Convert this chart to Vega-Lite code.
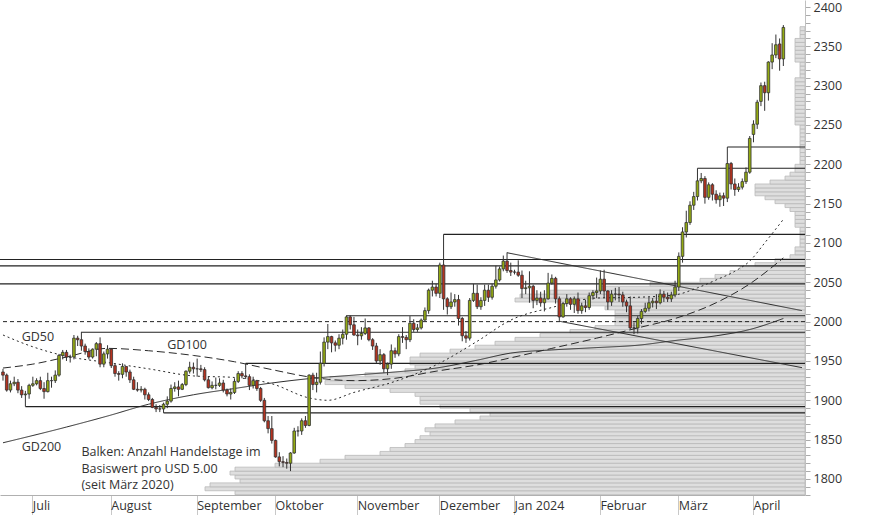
{
  "$schema": "https://vega.github.io/schema/vega-lite/v6.json",
  "width": 805,
  "height": 495,
  "autosize": {"type": "none"},
  "padding": {"left": 0, "top": 0, "right": 69, "bottom": 20},
  "background": "white",
  "config": {"view": {"stroke": null}, "font": "Open Sans", "axisY": {"grid": false, "title": null}},
  "datasets": {
    "kurse": [
      {"d":"2023-06-21","o":1936,"h":1940,"l":1925,"c":1932},
      {"d":"2023-06-22","o":1932,"h":1934,"l":1911,"c":1913},
      {"d":"2023-06-23","o":1913,"h":1925,"l":1910,"c":1921},
      {"d":"2023-06-26","o":1921,"h":1930,"l":1918,"c":1923},
      {"d":"2023-06-27","o":1923,"h":1927,"l":1909,"c":1913},
      {"d":"2023-06-28","o":1913,"h":1918,"l":1903,"c":1907},
      {"d":"2023-06-29","o":1907,"h":1912,"l":1892,"c":1908},
      {"d":"2023-06-30","o":1908,"h":1921,"l":1902,"c":1919},
      {"d":"2023-07-03","o":1919,"h":1930,"l":1917,"c":1921},
      {"d":"2023-07-04","o":1921,"h":1928,"l":1919,"c":1925},
      {"d":"2023-07-05","o":1925,"h":1930,"l":1913,"c":1915},
      {"d":"2023-07-06","o":1915,"h":1923,"l":1902,"c":1911},
      {"d":"2023-07-07","o":1911,"h":1935,"l":1910,"c":1925},
      {"d":"2023-07-10","o":1925,"h":1930,"l":1916,"c":1925},
      {"d":"2023-07-11","o":1925,"h":1938,"l":1922,"c":1932},
      {"d":"2023-07-12","o":1932,"h":1959,"l":1930,"c":1957},
      {"d":"2023-07-13","o":1957,"h":1964,"l":1952,"c":1961},
      {"d":"2023-07-14","o":1961,"h":1964,"l":1950,"c":1955},
      {"d":"2023-07-17","o":1955,"h":1958,"l":1948,"c":1955},
      {"d":"2023-07-18","o":1955,"h":1983,"l":1952,"c":1979},
      {"d":"2023-07-19","o":1979,"h":1982,"l":1969,"c":1977},
      {"d":"2023-07-20","o":1977,"h":1987,"l":1963,"c":1969},
      {"d":"2023-07-21","o":1969,"h":1972,"l":1958,"c":1962},
      {"d":"2023-07-24","o":1962,"h":1966,"l":1952,"c":1955},
      {"d":"2023-07-25","o":1955,"h":1966,"l":1953,"c":1965},
      {"d":"2023-07-26","o":1965,"h":1974,"l":1956,"c":1972},
      {"d":"2023-07-27","o":1972,"h":1980,"l":1942,"c":1946},
      {"d":"2023-07-28","o":1946,"h":1962,"l":1942,"c":1959},
      {"d":"2023-07-31","o":1959,"h":1970,"l":1953,"c":1965},
      {"d":"2023-08-01","o":1965,"h":1966,"l":1941,"c":1944},
      {"d":"2023-08-02","o":1944,"h":1947,"l":1930,"c":1934},
      {"d":"2023-08-03","o":1934,"h":1937,"l":1925,"c":1933},
      {"d":"2023-08-04","o":1933,"h":1947,"l":1928,"c":1943},
      {"d":"2023-08-07","o":1943,"h":1943,"l":1930,"c":1936},
      {"d":"2023-08-08","o":1936,"h":1939,"l":1922,"c":1926},
      {"d":"2023-08-09","o":1926,"h":1930,"l":1913,"c":1914},
      {"d":"2023-08-10","o":1914,"h":1923,"l":1911,"c":1913},
      {"d":"2023-08-11","o":1913,"h":1918,"l":1910,"c":1914},
      {"d":"2023-08-14","o":1914,"h":1916,"l":1901,"c":1907},
      {"d":"2023-08-15","o":1907,"h":1910,"l":1899,"c":1901},
      {"d":"2023-08-16","o":1901,"h":1903,"l":1890,"c":1891},
      {"d":"2023-08-17","o":1891,"h":1895,"l":1885,"c":1889},
      {"d":"2023-08-18","o":1889,"h":1894,"l":1885,"c":1889},
      {"d":"2023-08-21","o":1889,"h":1897,"l":1884,"c":1895},
      {"d":"2023-08-22","o":1895,"h":1905,"l":1890,"c":1899},
      {"d":"2023-08-23","o":1899,"h":1920,"l":1897,"c":1915},
      {"d":"2023-08-24","o":1915,"h":1923,"l":1911,"c":1917},
      {"d":"2023-08-25","o":1917,"h":1925,"l":1905,"c":1914},
      {"d":"2023-08-28","o":1914,"h":1922,"l":1913,"c":1920},
      {"d":"2023-08-29","o":1920,"h":1938,"l":1918,"c":1937},
      {"d":"2023-08-30","o":1937,"h":1949,"l":1934,"c":1942},
      {"d":"2023-08-31","o":1942,"h":1948,"l":1934,"c":1940},
      {"d":"2023-09-01","o":1940,"h":1953,"l":1930,"c":1940},
      {"d":"2023-09-04","o":1940,"h":1945,"l":1936,"c":1939},
      {"d":"2023-09-05","o":1939,"h":1942,"l":1924,"c":1926},
      {"d":"2023-09-06","o":1926,"h":1930,"l":1915,"c":1916},
      {"d":"2023-09-07","o":1916,"h":1924,"l":1914,"c":1919},
      {"d":"2023-09-08","o":1919,"h":1929,"l":1914,"c":1919},
      {"d":"2023-09-11","o":1919,"h":1928,"l":1917,"c":1922},
      {"d":"2023-09-12","o":1922,"h":1926,"l":1910,"c":1913},
      {"d":"2023-09-13","o":1913,"h":1915,"l":1905,"c":1908},
      {"d":"2023-09-14","o":1908,"h":1915,"l":1901,"c":1910},
      {"d":"2023-09-15","o":1910,"h":1928,"l":1908,"c":1924},
      {"d":"2023-09-18","o":1924,"h":1937,"l":1922,"c":1934},
      {"d":"2023-09-19","o":1934,"h":1937,"l":1928,"c":1931},
      {"d":"2023-09-20","o":1931,"h":1947,"l":1927,"c":1930},
      {"d":"2023-09-21","o":1930,"h":1933,"l":1913,"c":1919},
      {"d":"2023-09-22","o":1919,"h":1930,"l":1915,"c":1925},
      {"d":"2023-09-25","o":1925,"h":1926,"l":1912,"c":1915},
      {"d":"2023-09-26","o":1915,"h":1917,"l":1898,"c":1900},
      {"d":"2023-09-27","o":1900,"h":1903,"l":1872,"c":1874},
      {"d":"2023-09-28","o":1874,"h":1880,"l":1858,"c":1864},
      {"d":"2023-09-29","o":1864,"h":1880,"l":1845,"c":1849},
      {"d":"2023-10-02","o":1849,"h":1850,"l":1827,"c":1828},
      {"d":"2023-10-03","o":1828,"h":1834,"l":1816,"c":1822},
      {"d":"2023-10-04","o":1822,"h":1829,"l":1815,"c":1821},
      {"d":"2023-10-05","o":1821,"h":1826,"l":1813,"c":1820},
      {"d":"2023-10-06","o":1820,"h":1834,"l":1810,"c":1833},
      {"d":"2023-10-09","o":1833,"h":1865,"l":1832,"c":1861},
      {"d":"2023-10-10","o":1861,"h":1867,"l":1854,"c":1861},
      {"d":"2023-10-11","o":1861,"h":1877,"l":1856,"c":1874},
      {"d":"2023-10-12","o":1874,"h":1880,"l":1865,"c":1868},
      {"d":"2023-10-13","o":1868,"h":1933,"l":1867,"c":1932},
      {"d":"2023-10-16","o":1932,"h":1935,"l":1913,"c":1920},
      {"d":"2023-10-17","o":1920,"h":1935,"l":1910,"c":1923},
      {"d":"2023-10-18","o":1923,"h":1962,"l":1920,"c":1947},
      {"d":"2023-10-19","o":1947,"h":1980,"l":1943,"c":1974},
      {"d":"2023-10-20","o":1974,"h":1997,"l":1965,"c":1981},
      {"d":"2023-10-23","o":1981,"h":1982,"l":1961,"c":1973},
      {"d":"2023-10-24","o":1973,"h":1976,"l":1962,"c":1970},
      {"d":"2023-10-25","o":1970,"h":1984,"l":1965,"c":1979},
      {"d":"2023-10-26","o":1979,"h":1990,"l":1971,"c":1984},
      {"d":"2023-10-27","o":1984,"h":2008,"l":1977,"c":2006},
      {"d":"2023-10-30","o":2006,"h":2008,"l":1990,"c":1996},
      {"d":"2023-10-31","o":1996,"h":2006,"l":1982,"c":1983},
      {"d":"2023-11-01","o":1983,"h":1990,"l":1970,"c":1982},
      {"d":"2023-11-02","o":1982,"h":1993,"l":1977,"c":1985},
      {"d":"2023-11-03","o":1985,"h":2004,"l":1983,"c":1992},
      {"d":"2023-11-06","o":1992,"h":1993,"l":1975,"c":1977},
      {"d":"2023-11-07","o":1977,"h":1979,"l":1964,"c":1969},
      {"d":"2023-11-08","o":1969,"h":1973,"l":1947,"c":1950},
      {"d":"2023-11-09","o":1950,"h":1965,"l":1945,"c":1958},
      {"d":"2023-11-10","o":1958,"h":1960,"l":1935,"c":1940},
      {"d":"2023-11-13","o":1940,"h":1948,"l":1932,"c":1946},
      {"d":"2023-11-14","o":1946,"h":1971,"l":1940,"c":1963},
      {"d":"2023-11-15","o":1963,"h":1967,"l":1954,"c":1959},
      {"d":"2023-11-16","o":1959,"h":1984,"l":1956,"c":1981},
      {"d":"2023-11-17","o":1981,"h":1993,"l":1973,"c":1980},
      {"d":"2023-11-20","o":1980,"h":1983,"l":1965,"c":1977},
      {"d":"2023-11-21","o":1977,"h":2007,"l":1974,"c":1998},
      {"d":"2023-11-22","o":1998,"h":2003,"l":1987,"c":1990},
      {"d":"2023-11-23","o":1990,"h":1997,"l":1987,"c":1992},
      {"d":"2023-11-24","o":1992,"h":2004,"l":1990,"c":2002},
      {"d":"2023-11-27","o":2002,"h":2018,"l":2001,"c":2014},
      {"d":"2023-11-28","o":2014,"h":2042,"l":2010,"c":2040},
      {"d":"2023-11-29","o":2040,"h":2052,"l":2032,"c":2044},
      {"d":"2023-11-30","o":2044,"h":2048,"l":2032,"c":2036},
      {"d":"2023-12-01","o":2036,"h":2075,"l":2030,"c":2072},
      {"d":"2023-12-04","o":2072,"h":2111,"l":2015,"c":2029},
      {"d":"2023-12-05","o":2029,"h":2031,"l":2009,"c":2019},
      {"d":"2023-12-06","o":2019,"h":2037,"l":2016,"c":2025},
      {"d":"2023-12-07","o":2025,"h":2035,"l":2019,"c":2028},
      {"d":"2023-12-08","o":2028,"h":2034,"l":1995,"c":2004},
      {"d":"2023-12-11","o":2004,"h":2006,"l":1975,"c":1982},
      {"d":"2023-12-12","o":1982,"h":1988,"l":1973,"c":1979},
      {"d":"2023-12-13","o":1979,"h":2030,"l":1976,"c":2027},
      {"d":"2023-12-14","o":2027,"h":2048,"l":2025,"c":2036},
      {"d":"2023-12-15","o":2036,"h":2047,"l":2016,"c":2019},
      {"d":"2023-12-18","o":2019,"h":2031,"l":2015,"c":2027},
      {"d":"2023-12-19","o":2027,"h":2047,"l":2020,"c":2040},
      {"d":"2023-12-20","o":2040,"h":2047,"l":2025,"c":2031},
      {"d":"2023-12-21","o":2031,"h":2048,"l":2028,"c":2045},
      {"d":"2023-12-22","o":2045,"h":2071,"l":2042,"c":2053},
      {"d":"2023-12-26","o":2053,"h":2070,"l":2051,"c":2067},
      {"d":"2023-12-27","o":2067,"h":2084,"l":2064,"c":2077},
      {"d":"2023-12-28","o":2077,"h":2088,"l":2062,"c":2065},
      {"d":"2023-12-29","o":2065,"h":2075,"l":2058,"c":2063},
      {"d":"2024-01-01","o":2063,"h":2066,"l":2060,"c":2063},
      {"d":"2024-01-02","o":2063,"h":2078,"l":2057,"c":2059},
      {"d":"2024-01-03","o":2059,"h":2065,"l":2030,"c":2042},
      {"d":"2024-01-04","o":2042,"h":2052,"l":2035,"c":2043},
      {"d":"2024-01-05","o":2043,"h":2064,"l":2024,"c":2045},
      {"d":"2024-01-08","o":2045,"h":2047,"l":2017,"c":2027},
      {"d":"2024-01-09","o":2027,"h":2040,"l":2021,"c":2030},
      {"d":"2024-01-10","o":2030,"h":2038,"l":2019,"c":2024},
      {"d":"2024-01-11","o":2024,"h":2040,"l":2013,"c":2029},
      {"d":"2024-01-12","o":2029,"h":2062,"l":2028,"c":2049},
      {"d":"2024-01-15","o":2049,"h":2060,"l":2047,"c":2055},
      {"d":"2024-01-16","o":2055,"h":2057,"l":2023,"c":2029},
      {"d":"2024-01-17","o":2029,"h":2032,"l":2001,"c":2006},
      {"d":"2024-01-18","o":2006,"h":2025,"l":2005,"c":2023},
      {"d":"2024-01-19","o":2023,"h":2035,"l":2019,"c":2029},
      {"d":"2024-01-22","o":2029,"h":2031,"l":2015,"c":2022},
      {"d":"2024-01-23","o":2022,"h":2032,"l":2011,"c":2029},
      {"d":"2024-01-24","o":2029,"h":2037,"l":2010,"c":2014},
      {"d":"2024-01-25","o":2014,"h":2024,"l":2010,"c":2020},
      {"d":"2024-01-26","o":2020,"h":2028,"l":2012,"c":2018},
      {"d":"2024-01-29","o":2018,"h":2037,"l":2015,"c":2033},
      {"d":"2024-01-30","o":2033,"h":2040,"l":2028,"c":2037},
      {"d":"2024-01-31","o":2037,"h":2056,"l":2030,"c":2039},
      {"d":"2024-02-01","o":2039,"h":2065,"l":2035,"c":2054},
      {"d":"2024-02-02","o":2054,"h":2066,"l":2030,"c":2039},
      {"d":"2024-02-05","o":2039,"h":2040,"l":2015,"c":2025},
      {"d":"2024-02-06","o":2025,"h":2040,"l":2020,"c":2035},
      {"d":"2024-02-07","o":2035,"h":2043,"l":2027,"c":2035},
      {"d":"2024-02-08","o":2035,"h":2044,"l":2025,"c":2034},
      {"d":"2024-02-09","o":2034,"h":2038,"l":2019,"c":2025},
      {"d":"2024-02-12","o":2025,"h":2028,"l":2012,"c":2020},
      {"d":"2024-02-13","o":2020,"h":2032,"l":1990,"c":1992},
      {"d":"2024-02-14","o":1992,"h":1999,"l":1984,"c":1992},
      {"d":"2024-02-15","o":1992,"h":2007,"l":1985,"c":2004},
      {"d":"2024-02-16","o":2004,"h":2016,"l":1997,"c":2013},
      {"d":"2024-02-19","o":2013,"h":2024,"l":2011,"c":2017},
      {"d":"2024-02-20","o":2017,"h":2031,"l":2013,"c":2024},
      {"d":"2024-02-21","o":2024,"h":2030,"l":2018,"c":2026},
      {"d":"2024-02-22","o":2026,"h":2035,"l":2016,"c":2024},
      {"d":"2024-02-23","o":2024,"h":2041,"l":2022,"c":2035},
      {"d":"2024-02-26","o":2035,"h":2039,"l":2025,"c":2031},
      {"d":"2024-02-27","o":2031,"h":2037,"l":2025,"c":2029},
      {"d":"2024-02-28","o":2029,"h":2038,"l":2025,"c":2034},
      {"d":"2024-02-29","o":2034,"h":2052,"l":2031,"c":2044},
      {"d":"2024-03-01","o":2044,"h":2088,"l":2039,"c":2083},
      {"d":"2024-03-04","o":2083,"h":2120,"l":2075,"c":2114},
      {"d":"2024-03-05","o":2114,"h":2141,"l":2107,"c":2126},
      {"d":"2024-03-06","o":2126,"h":2153,"l":2123,"c":2148},
      {"d":"2024-03-07","o":2148,"h":2165,"l":2142,"c":2159},
      {"d":"2024-03-08","o":2159,"h":2195,"l":2154,"c":2179},
      {"d":"2024-03-11","o":2179,"h":2189,"l":2176,"c":2182},
      {"d":"2024-03-12","o":2182,"h":2185,"l":2150,"c":2158},
      {"d":"2024-03-13","o":2158,"h":2177,"l":2155,"c":2174},
      {"d":"2024-03-14","o":2174,"h":2176,"l":2154,"c":2162},
      {"d":"2024-03-15","o":2162,"h":2167,"l":2150,"c":2155},
      {"d":"2024-03-18","o":2155,"h":2164,"l":2146,"c":2160},
      {"d":"2024-03-19","o":2160,"h":2164,"l":2147,"c":2157},
      {"d":"2024-03-20","o":2157,"h":2222,"l":2152,"c":2201},
      {"d":"2024-03-21","o":2201,"h":2203,"l":2168,"c":2175},
      {"d":"2024-03-22","o":2175,"h":2182,"l":2160,"c":2168},
      {"d":"2024-03-25","o":2168,"h":2176,"l":2165,"c":2171},
      {"d":"2024-03-26","o":2171,"h":2182,"l":2168,"c":2178},
      {"d":"2024-03-27","o":2178,"h":2196,"l":2175,"c":2190},
      {"d":"2024-03-28","o":2190,"h":2236,"l":2188,"c":2233},
      {"d":"2024-04-01","o":2238,"h":2256,"l":2228,"c":2251},
      {"d":"2024-04-02","o":2251,"h":2282,"l":2245,"c":2279},
      {"d":"2024-04-03","o":2280,"h":2304,"l":2274,"c":2300},
      {"d":"2024-04-04","o":2300,"h":2305,"l":2268,"c":2291},
      {"d":"2024-04-05","o":2291,"h":2331,"l":2281,"c":2330},
      {"d":"2024-04-08","o":2330,"h":2354,"l":2321,"c":2339},
      {"d":"2024-04-09","o":2339,"h":2365,"l":2335,"c":2352},
      {"d":"2024-04-10","o":2353,"h":2360,"l":2319,"c":2334},
      {"d":"2024-04-11","o":2334,"h":2377,"l":2325,"c":2374}
    ],
    "linien": [
      {"linie":"GD50","d":"2023-06-21","p":1983},{"linie":"GD50","d":"2023-07-03","p":1968},{"linie":"GD50","d":"2023-07-14","p":1956},
      {"linie":"GD50","d":"2023-07-31","p":1948},{"linie":"GD50","d":"2023-08-15","p":1940},{"linie":"GD50","d":"2023-08-31","p":1931},
      {"linie":"GD50","d":"2023-09-15","p":1929},{"linie":"GD50","d":"2023-09-29","p":1921},{"linie":"GD50","d":"2023-10-13","p":1903},
      {"linie":"GD50","d":"2023-10-20","p":1900},{"linie":"GD50","d":"2023-10-31","p":1910},{"linie":"GD50","d":"2023-11-15","p":1924},
      {"linie":"GD50","d":"2023-11-30","p":1945},{"linie":"GD50","d":"2023-12-15","p":1975},{"linie":"GD50","d":"2023-12-29","p":2002},
      {"linie":"GD50","d":"2024-01-15","p":2018},{"linie":"GD50","d":"2024-01-31","p":2030},{"linie":"GD50","d":"2024-02-15","p":2031},
      {"linie":"GD50","d":"2024-02-29","p":2034},{"linie":"GD50","d":"2024-03-08","p":2043},{"linie":"GD50","d":"2024-03-15","p":2053},
      {"linie":"GD50","d":"2024-03-22","p":2064},{"linie":"GD50","d":"2024-03-28","p":2077},{"linie":"GD50","d":"2024-04-04","p":2100},
      {"linie":"GD50","d":"2024-04-11","p":2130},
      {"linie":"GD100","d":"2023-06-21","p":1941},{"linie":"GD100","d":"2023-07-03","p":1946},{"linie":"GD100","d":"2023-07-14","p":1955},
      {"linie":"GD100","d":"2023-07-31","p":1966},{"linie":"GD100","d":"2023-08-15","p":1963},{"linie":"GD100","d":"2023-08-31","p":1957},
      {"linie":"GD100","d":"2023-09-15","p":1949},{"linie":"GD100","d":"2023-09-29","p":1939},{"linie":"GD100","d":"2023-10-16","p":1929},
      {"linie":"GD100","d":"2023-10-31","p":1925},{"linie":"GD100","d":"2023-11-15","p":1928},{"linie":"GD100","d":"2023-11-30","p":1937},
      {"linie":"GD100","d":"2023-12-15","p":1945},{"linie":"GD100","d":"2023-12-29","p":1954},{"linie":"GD100","d":"2024-01-15","p":1966},
      {"linie":"GD100","d":"2024-01-31","p":1979},{"linie":"GD100","d":"2024-02-15","p":1992},{"linie":"GD100","d":"2024-02-29","p":2004},
      {"linie":"GD100","d":"2024-03-15","p":2024},{"linie":"GD100","d":"2024-03-28","p":2048},{"linie":"GD100","d":"2024-04-11","p":2081},
      {"linie":"GD200","d":"2023-06-21","p":1846},{"linie":"GD200","d":"2023-07-14","p":1866},{"linie":"GD200","d":"2023-07-31","p":1880},
      {"linie":"GD200","d":"2023-08-15","p":1895},{"linie":"GD200","d":"2023-08-31","p":1907},{"linie":"GD200","d":"2023-09-15","p":1915},
      {"linie":"GD200","d":"2023-09-29","p":1922},{"linie":"GD200","d":"2023-10-16","p":1928},{"linie":"GD200","d":"2023-10-31","p":1932},
      {"linie":"GD200","d":"2023-11-15","p":1936},{"linie":"GD200","d":"2023-11-30","p":1941},{"linie":"GD200","d":"2023-12-15","p":1951},
      {"linie":"GD200","d":"2023-12-29","p":1960},{"linie":"GD200","d":"2024-01-15","p":1964},{"linie":"GD200","d":"2024-01-31","p":1967},
      {"linie":"GD200","d":"2024-02-15","p":1970},{"linie":"GD200","d":"2024-02-29","p":1976},{"linie":"GD200","d":"2024-03-15","p":1982},
      {"linie":"GD200","d":"2024-03-28","p":1990},{"linie":"GD200","d":"2024-04-11","p":2004},
      {"linie":"Trend oben","d":"2023-12-28","p":2087.6},{"linie":"Trend oben","d":"2024-04-18","p":2014},
      {"linie":"Trend unten","d":"2024-01-17","p":2000.5},{"linie":"Trend unten","d":"2024-04-18","p":1941.5}
    ],
    "marken": [
      {"d":"2023-06-29","p":1892},
      {"d":"2023-07-20","p":1986.5},
      {"d":"2023-08-21","p":1884},
      {"d":"2023-09-20","p":1947},
      {"d":"2023-10-27","p":2007.5},
      {"d":"2023-12-04","p":2111},
      {"d":"2024-03-08","p":2195},
      {"d":"2024-03-20","p":2222}
    ],
    "volllinien": [{"p":2079},{"p":2071},{"p":2048}],
    "texte": [
      {"d":"2023-06-28","p":1975.5,"text":"GD50"},
      {"d":"2023-08-22","p":1965.5,"text":"GD100"},
      {"d":"2023-06-28","p":1836,"text":"GD200"},
      {"d":"2023-07-20","p":1829.5,"text":"Balken: Anzahl Handelstage im"},
      {"d":"2023-07-20","p":1807.5,"text":"Basiswert pro USD 5.00"},
      {"d":"2023-07-20","p":1787,"text":"(seit März 2020)"}
    ],
    "profil": [
      {"lo":1780,"hi":1785,"n":114},{"lo":1785,"hi":1790,"n":120},{"lo":1790,"hi":1795,"n":119},
      {"lo":1795,"hi":1800,"n":113},{"lo":1800,"hi":1805,"n":114},{"lo":1805,"hi":1810,"n":115},
      {"lo":1810,"hi":1815,"n":114},{"lo":1815,"hi":1820,"n":106},{"lo":1820,"hi":1825,"n":97},
      {"lo":1825,"hi":1830,"n":92},{"lo":1830,"hi":1835,"n":85},{"lo":1835,"hi":1840,"n":83},
      {"lo":1840,"hi":1845,"n":80},{"lo":1845,"hi":1850,"n":78},{"lo":1850,"hi":1855,"n":77},
      {"lo":1855,"hi":1860,"n":75},{"lo":1860,"hi":1865,"n":76},{"lo":1865,"hi":1870,"n":74},
      {"lo":1870,"hi":1875,"n":70},{"lo":1875,"hi":1880,"n":65},{"lo":1880,"hi":1885,"n":63},
      {"lo":1885,"hi":1890,"n":67},{"lo":1890,"hi":1895,"n":73},{"lo":1895,"hi":1900,"n":77},
      {"lo":1900,"hi":1905,"n":77},{"lo":1905,"hi":1910,"n":78},{"lo":1910,"hi":1915,"n":83},
      {"lo":1915,"hi":1920,"n":92},{"lo":1920,"hi":1925,"n":96},{"lo":1925,"hi":1930,"n":95},
      {"lo":1930,"hi":1935,"n":88},{"lo":1935,"hi":1940,"n":80},{"lo":1940,"hi":1945,"n":78},
      {"lo":1945,"hi":1950,"n":79},{"lo":1950,"hi":1955,"n":79},{"lo":1955,"hi":1960,"n":77},
      {"lo":1960,"hi":1965,"n":71},{"lo":1965,"hi":1970,"n":66},{"lo":1970,"hi":1975,"n":62},
      {"lo":1975,"hi":1980,"n":58},{"lo":1980,"hi":1985,"n":53},{"lo":1985,"hi":1990,"n":47},
      {"lo":1990,"hi":1995,"n":42},{"lo":1995,"hi":2000,"n":38},{"lo":2000,"hi":2005,"n":38},
      {"lo":2005,"hi":2010,"n":38},{"lo":2010,"hi":2015,"n":38},{"lo":2015,"hi":2020,"n":40},
      {"lo":2020,"hi":2025,"n":46},{"lo":2025,"hi":2030,"n":58},{"lo":2030,"hi":2035,"n":57},
      {"lo":2035,"hi":2040,"n":51},{"lo":2040,"hi":2045,"n":41},{"lo":2045,"hi":2050,"n":31},
      {"lo":2050,"hi":2055,"n":21},{"lo":2055,"hi":2060,"n":18},{"lo":2060,"hi":2065,"n":15},
      {"lo":2065,"hi":2070,"n":13},{"lo":2070,"hi":2075,"n":10},{"lo":2075,"hi":2080,"n":6},
      {"lo":2080,"hi":2085,"n":3},{"lo":2085,"hi":2090,"n":2},{"lo":2090,"hi":2095,"n":2},
      {"lo":2095,"hi":2100,"n":1},{"lo":2100,"hi":2105,"n":1},{"lo":2105,"hi":2110,"n":1},
      {"lo":2110,"hi":2115,"n":1},{"lo":2115,"hi":2120,"n":1},{"lo":2120,"hi":2125,"n":2},
      {"lo":2125,"hi":2130,"n":2},{"lo":2130,"hi":2135,"n":2},{"lo":2135,"hi":2140,"n":2},
      {"lo":2140,"hi":2145,"n":3},{"lo":2145,"hi":2150,"n":4},{"lo":2150,"hi":2155,"n":6},
      {"lo":2155,"hi":2160,"n":8},{"lo":2160,"hi":2165,"n":10},{"lo":2165,"hi":2170,"n":10},
      {"lo":2170,"hi":2175,"n":10},{"lo":2175,"hi":2180,"n":7},{"lo":2180,"hi":2185,"n":4},
      {"lo":2185,"hi":2190,"n":3},{"lo":2190,"hi":2195,"n":2},{"lo":2195,"hi":2200,"n":2},
      {"lo":2200,"hi":2205,"n":1},{"lo":2205,"hi":2210,"n":1},{"lo":2210,"hi":2215,"n":1},
      {"lo":2215,"hi":2220,"n":1},{"lo":2220,"hi":2225,"n":1},{"lo":2225,"hi":2230,"n":1},
      {"lo":2230,"hi":2235,"n":1},{"lo":2235,"hi":2240,"n":1},{"lo":2240,"hi":2245,"n":1},
      {"lo":2245,"hi":2250,"n":1},{"lo":2250,"hi":2255,"n":2},{"lo":2255,"hi":2260,"n":2},
      {"lo":2260,"hi":2265,"n":2},{"lo":2265,"hi":2270,"n":2},{"lo":2270,"hi":2275,"n":2},
      {"lo":2275,"hi":2280,"n":2},{"lo":2280,"hi":2285,"n":2},{"lo":2285,"hi":2290,"n":2},
      {"lo":2290,"hi":2295,"n":2},{"lo":2295,"hi":2300,"n":2},{"lo":2300,"hi":2305,"n":2},
      {"lo":2305,"hi":2310,"n":2},{"lo":2310,"hi":2315,"n":1},{"lo":2315,"hi":2320,"n":1},
      {"lo":2320,"hi":2325,"n":1},{"lo":2325,"hi":2330,"n":1},{"lo":2330,"hi":2335,"n":2},
      {"lo":2335,"hi":2340,"n":2},{"lo":2340,"hi":2345,"n":2},{"lo":2345,"hi":2350,"n":2},
      {"lo":2350,"hi":2355,"n":2},{"lo":2355,"hi":2360,"n":2},{"lo":2360,"hi":2365,"n":1},
      {"lo":2365,"hi":2370,"n":1},{"lo":2370,"hi":2375,"n":1}
    ]
  },
  "layer": [
    {
      "data": {"name": "profil"},
      "mark": {"type": "rect", "fill": "#dedede", "stroke": "#b9b9b9", "strokeWidth": 0.8, "clip": true},
      "encoding": {
        "x": {"field": "n", "type": "quantitative", "scale": {"domain": [0, 161], "reverse": true, "nice": false, "zero": true}, "axis": null},
        "x2": {"datum": 0},
        "y": {"field": "lo", "type": "quantitative", "scale": {"domain": [1779.6, 2408.9], "nice": false, "zero": false},
          "axis": {
            "orient": "right", "title": null, "zindex": 1, "tickCount": 200,
            "values": [1780,1790,1800,1810,1820,1830,1840,1850,1860,1870,1880,1890,1900,1910,1920,1930,1940,1950,1960,1970,1980,1990,2000,2010,2020,2030,2040,2050,2060,2070,2080,2090,2100,2110,2120,2130,2140,2150,2160,2170,2180,2190,2200,2210,2220,2230,2240,2250,2260,2270,2280,2290,2300,2310,2320,2330,2340,2350,2360,2370,2380,2390,2400],
            "labelExpr": "datum.value % 50 === 0 ? format(datum.value, 'd') : ''",
            "tickSize": 5, "tickColor": "#aaaaaa", "domainColor": "#c0c0c0",
            "labelPadding": 3, "labelFont": "Open Sans", "labelFontSize": 12.5, "labelColor": "#333333",
            "labelOverlap": false, "labelBound": false, "labelFlush": false, "grid": false
          }
        },
        "y2": {"field": "hi"}
      }
    },
    {
      "data": {"name": "volllinien"},
      "mark": {"type": "rule", "color": "#222222", "strokeWidth": 1.2},
      "encoding": {
        "y": {"field": "p", "type": "quantitative", "scale": {"domain": [1779.6, 2408.9], "nice": false, "zero": false}}
      }
    },
    {
      "data": {"values": [{"marke": 2000}]},
      "mark": {"type": "rule", "color": "#222222", "strokeWidth": 1, "strokeDash": [4, 3]},
      "encoding": {
        "y": {"field": "marke", "type": "quantitative", "scale": {"domain": [1779.6, 2408.9], "nice": false, "zero": false}}
      }
    },
    {
      "data": {"name": "linien"},
      "mark": {"type": "line", "color": "#2a2a2a", "strokeWidth": 1, "interpolate": "monotone", "clip": true},
      "encoding": {
        "x": {"field": "d", "type": "ordinal", "bandPosition": 0.5, "axis": null,
          "scale": {"type": "band", "paddingInner": 0.3, "paddingOuter": 0.45, "domain": ["2023-06-21","2023-06-22","2023-06-23","2023-06-26","2023-06-27","2023-06-28","2023-06-29","2023-06-30","2023-07-03","2023-07-04","2023-07-05","2023-07-06","2023-07-07","2023-07-10","2023-07-11","2023-07-12","2023-07-13","2023-07-14","2023-07-17","2023-07-18","2023-07-19","2023-07-20","2023-07-21","2023-07-24","2023-07-25","2023-07-26","2023-07-27","2023-07-28","2023-07-31","2023-08-01","2023-08-02","2023-08-03","2023-08-04","2023-08-07","2023-08-08","2023-08-09","2023-08-10","2023-08-11","2023-08-14","2023-08-15","2023-08-16","2023-08-17","2023-08-18","2023-08-21","2023-08-22","2023-08-23","2023-08-24","2023-08-25","2023-08-28","2023-08-29","2023-08-30","2023-08-31","2023-09-01","2023-09-04","2023-09-05","2023-09-06","2023-09-07","2023-09-08","2023-09-11","2023-09-12","2023-09-13","2023-09-14","2023-09-15","2023-09-18","2023-09-19","2023-09-20","2023-09-21","2023-09-22","2023-09-25","2023-09-26","2023-09-27","2023-09-28","2023-09-29","2023-10-02","2023-10-03","2023-10-04","2023-10-05","2023-10-06","2023-10-09","2023-10-10","2023-10-11","2023-10-12","2023-10-13","2023-10-16","2023-10-17","2023-10-18","2023-10-19","2023-10-20","2023-10-23","2023-10-24","2023-10-25","2023-10-26","2023-10-27","2023-10-30","2023-10-31","2023-11-01","2023-11-02","2023-11-03","2023-11-06","2023-11-07","2023-11-08","2023-11-09","2023-11-10","2023-11-13","2023-11-14","2023-11-15","2023-11-16","2023-11-17","2023-11-20","2023-11-21","2023-11-22","2023-11-23","2023-11-24","2023-11-27","2023-11-28","2023-11-29","2023-11-30","2023-12-01","2023-12-04","2023-12-05","2023-12-06","2023-12-07","2023-12-08","2023-12-11","2023-12-12","2023-12-13","2023-12-14","2023-12-15","2023-12-18","2023-12-19","2023-12-20","2023-12-21","2023-12-22","2023-12-26","2023-12-27","2023-12-28","2023-12-29","2024-01-01","2024-01-02","2024-01-03","2024-01-04","2024-01-05","2024-01-08","2024-01-09","2024-01-10","2024-01-11","2024-01-12","2024-01-15","2024-01-16","2024-01-17","2024-01-18","2024-01-19","2024-01-22","2024-01-23","2024-01-24","2024-01-25","2024-01-26","2024-01-29","2024-01-30","2024-01-31","2024-02-01","2024-02-02","2024-02-05","2024-02-06","2024-02-07","2024-02-08","2024-02-09","2024-02-12","2024-02-13","2024-02-14","2024-02-15","2024-02-16","2024-02-19","2024-02-20","2024-02-21","2024-02-22","2024-02-23","2024-02-26","2024-02-27","2024-02-28","2024-02-29","2024-03-01","2024-03-04","2024-03-05","2024-03-06","2024-03-07","2024-03-08","2024-03-11","2024-03-12","2024-03-13","2024-03-14","2024-03-15","2024-03-18","2024-03-19","2024-03-20","2024-03-21","2024-03-22","2024-03-25","2024-03-26","2024-03-27","2024-03-28","2024-04-01","2024-04-02","2024-04-03","2024-04-04","2024-04-05","2024-04-08","2024-04-09","2024-04-10","2024-04-11","2024-04-12","2024-04-15","2024-04-16","2024-04-17","2024-04-18"]}},
        "y": {"field": "p", "type": "quantitative", "scale": {"domain": [1779.6, 2408.9], "nice": false, "zero": false}},
        "strokeDash": {"field": "linie", "type": "nominal", "legend": null,
          "scale": {"domain": ["GD50", "GD100", "GD200", "Trend oben", "Trend unten"], "range": [[2, 3], [8, 4], [1, 0], [1, 0], [1, 0]]}}
      }
    },
    {
      "data": {"name": "marken"},
      "mark": {"type": "rule", "color": "#222222", "strokeWidth": 1.2},
      "encoding": {
        "x": {"field": "d", "type": "ordinal", "bandPosition": 0.5, "axis": null,
          "scale": {"type": "band", "paddingInner": 0.3, "paddingOuter": 0.45, "domain": ["2023-06-21","2023-06-22","2023-06-23","2023-06-26","2023-06-27","2023-06-28","2023-06-29","2023-06-30","2023-07-03","2023-07-04","2023-07-05","2023-07-06","2023-07-07","2023-07-10","2023-07-11","2023-07-12","2023-07-13","2023-07-14","2023-07-17","2023-07-18","2023-07-19","2023-07-20","2023-07-21","2023-07-24","2023-07-25","2023-07-26","2023-07-27","2023-07-28","2023-07-31","2023-08-01","2023-08-02","2023-08-03","2023-08-04","2023-08-07","2023-08-08","2023-08-09","2023-08-10","2023-08-11","2023-08-14","2023-08-15","2023-08-16","2023-08-17","2023-08-18","2023-08-21","2023-08-22","2023-08-23","2023-08-24","2023-08-25","2023-08-28","2023-08-29","2023-08-30","2023-08-31","2023-09-01","2023-09-04","2023-09-05","2023-09-06","2023-09-07","2023-09-08","2023-09-11","2023-09-12","2023-09-13","2023-09-14","2023-09-15","2023-09-18","2023-09-19","2023-09-20","2023-09-21","2023-09-22","2023-09-25","2023-09-26","2023-09-27","2023-09-28","2023-09-29","2023-10-02","2023-10-03","2023-10-04","2023-10-05","2023-10-06","2023-10-09","2023-10-10","2023-10-11","2023-10-12","2023-10-13","2023-10-16","2023-10-17","2023-10-18","2023-10-19","2023-10-20","2023-10-23","2023-10-24","2023-10-25","2023-10-26","2023-10-27","2023-10-30","2023-10-31","2023-11-01","2023-11-02","2023-11-03","2023-11-06","2023-11-07","2023-11-08","2023-11-09","2023-11-10","2023-11-13","2023-11-14","2023-11-15","2023-11-16","2023-11-17","2023-11-20","2023-11-21","2023-11-22","2023-11-23","2023-11-24","2023-11-27","2023-11-28","2023-11-29","2023-11-30","2023-12-01","2023-12-04","2023-12-05","2023-12-06","2023-12-07","2023-12-08","2023-12-11","2023-12-12","2023-12-13","2023-12-14","2023-12-15","2023-12-18","2023-12-19","2023-12-20","2023-12-21","2023-12-22","2023-12-26","2023-12-27","2023-12-28","2023-12-29","2024-01-01","2024-01-02","2024-01-03","2024-01-04","2024-01-05","2024-01-08","2024-01-09","2024-01-10","2024-01-11","2024-01-12","2024-01-15","2024-01-16","2024-01-17","2024-01-18","2024-01-19","2024-01-22","2024-01-23","2024-01-24","2024-01-25","2024-01-26","2024-01-29","2024-01-30","2024-01-31","2024-02-01","2024-02-02","2024-02-05","2024-02-06","2024-02-07","2024-02-08","2024-02-09","2024-02-12","2024-02-13","2024-02-14","2024-02-15","2024-02-16","2024-02-19","2024-02-20","2024-02-21","2024-02-22","2024-02-23","2024-02-26","2024-02-27","2024-02-28","2024-02-29","2024-03-01","2024-03-04","2024-03-05","2024-03-06","2024-03-07","2024-03-08","2024-03-11","2024-03-12","2024-03-13","2024-03-14","2024-03-15","2024-03-18","2024-03-19","2024-03-20","2024-03-21","2024-03-22","2024-03-25","2024-03-26","2024-03-27","2024-03-28","2024-04-01","2024-04-02","2024-04-03","2024-04-04","2024-04-05","2024-04-08","2024-04-09","2024-04-10","2024-04-11","2024-04-12","2024-04-15","2024-04-16","2024-04-17","2024-04-18"]}},
        "x2": {"value": "width"},
        "y": {"field": "p", "type": "quantitative", "scale": {"domain": [1779.6, 2408.9], "nice": false, "zero": false}}
      }
    },
    {
      "data": {"name": "kurse"},
      "mark": {"type": "rule", "color": "#333333", "strokeWidth": 1},
      "encoding": {
        "x": {"field": "d", "type": "ordinal", "bandPosition": 0.5,
          "scale": {"type": "band", "paddingInner": 0.3, "paddingOuter": 0.45, "domain": ["2023-06-21","2023-06-22","2023-06-23","2023-06-26","2023-06-27","2023-06-28","2023-06-29","2023-06-30","2023-07-03","2023-07-04","2023-07-05","2023-07-06","2023-07-07","2023-07-10","2023-07-11","2023-07-12","2023-07-13","2023-07-14","2023-07-17","2023-07-18","2023-07-19","2023-07-20","2023-07-21","2023-07-24","2023-07-25","2023-07-26","2023-07-27","2023-07-28","2023-07-31","2023-08-01","2023-08-02","2023-08-03","2023-08-04","2023-08-07","2023-08-08","2023-08-09","2023-08-10","2023-08-11","2023-08-14","2023-08-15","2023-08-16","2023-08-17","2023-08-18","2023-08-21","2023-08-22","2023-08-23","2023-08-24","2023-08-25","2023-08-28","2023-08-29","2023-08-30","2023-08-31","2023-09-01","2023-09-04","2023-09-05","2023-09-06","2023-09-07","2023-09-08","2023-09-11","2023-09-12","2023-09-13","2023-09-14","2023-09-15","2023-09-18","2023-09-19","2023-09-20","2023-09-21","2023-09-22","2023-09-25","2023-09-26","2023-09-27","2023-09-28","2023-09-29","2023-10-02","2023-10-03","2023-10-04","2023-10-05","2023-10-06","2023-10-09","2023-10-10","2023-10-11","2023-10-12","2023-10-13","2023-10-16","2023-10-17","2023-10-18","2023-10-19","2023-10-20","2023-10-23","2023-10-24","2023-10-25","2023-10-26","2023-10-27","2023-10-30","2023-10-31","2023-11-01","2023-11-02","2023-11-03","2023-11-06","2023-11-07","2023-11-08","2023-11-09","2023-11-10","2023-11-13","2023-11-14","2023-11-15","2023-11-16","2023-11-17","2023-11-20","2023-11-21","2023-11-22","2023-11-23","2023-11-24","2023-11-27","2023-11-28","2023-11-29","2023-11-30","2023-12-01","2023-12-04","2023-12-05","2023-12-06","2023-12-07","2023-12-08","2023-12-11","2023-12-12","2023-12-13","2023-12-14","2023-12-15","2023-12-18","2023-12-19","2023-12-20","2023-12-21","2023-12-22","2023-12-26","2023-12-27","2023-12-28","2023-12-29","2024-01-01","2024-01-02","2024-01-03","2024-01-04","2024-01-05","2024-01-08","2024-01-09","2024-01-10","2024-01-11","2024-01-12","2024-01-15","2024-01-16","2024-01-17","2024-01-18","2024-01-19","2024-01-22","2024-01-23","2024-01-24","2024-01-25","2024-01-26","2024-01-29","2024-01-30","2024-01-31","2024-02-01","2024-02-02","2024-02-05","2024-02-06","2024-02-07","2024-02-08","2024-02-09","2024-02-12","2024-02-13","2024-02-14","2024-02-15","2024-02-16","2024-02-19","2024-02-20","2024-02-21","2024-02-22","2024-02-23","2024-02-26","2024-02-27","2024-02-28","2024-02-29","2024-03-01","2024-03-04","2024-03-05","2024-03-06","2024-03-07","2024-03-08","2024-03-11","2024-03-12","2024-03-13","2024-03-14","2024-03-15","2024-03-18","2024-03-19","2024-03-20","2024-03-21","2024-03-22","2024-03-25","2024-03-26","2024-03-27","2024-03-28","2024-04-01","2024-04-02","2024-04-03","2024-04-04","2024-04-05","2024-04-08","2024-04-09","2024-04-10","2024-04-11","2024-04-12","2024-04-15","2024-04-16","2024-04-17","2024-04-18"]},
          "axis": {
            "title": null, "orient": "bottom",
            "values": ["2023-07-03","2023-08-01","2023-09-01","2023-10-02","2023-11-01","2023-12-01","2024-01-01","2024-02-01","2024-03-01","2024-04-01"],
            "labelExpr": "datum.value == '2023-07-03' ? 'Juli' : datum.value == '2023-08-01' ? 'August' : datum.value == '2023-09-01' ? 'September' : datum.value == '2023-10-02' ? 'Oktober' : datum.value == '2023-11-01' ? 'November' : datum.value == '2023-12-01' ? 'Dezember' : datum.value == '2024-01-01' ? 'Jan 2024' : datum.value == '2024-02-01' ? 'Februar' : datum.value == '2024-03-01' ? 'März' : 'April'",
            "tickSize": 20, "tickColor": "#c8c8c8", "domainColor": "#b0b0b0",
            "labelAlign": "left", "labelBaseline": "top", "labelPadding": -16, "labelDx": 3,
            "labelFont": "Open Sans", "labelFontSize": 12.5, "labelColor": "#333333",
            "labelOverlap": false, "labelBound": false, "labelFlush": false, "labelAngle": 0, "grid": false
          }
        },
        "y": {"field": "l", "type": "quantitative", "scale": {"domain": [1779.6, 2408.9], "nice": false, "zero": false}},
        "y2": {"field": "h"}
      }
    },
    {
      "data": {"name": "kurse"},
      "mark": {"type": "bar", "stroke": "#333333", "strokeWidth": 0.8},
      "encoding": {
        "x": {"field": "d", "type": "ordinal", "axis": null,
          "scale": {"type": "band", "paddingInner": 0.3, "paddingOuter": 0.45, "domain": ["2023-06-21","2023-06-22","2023-06-23","2023-06-26","2023-06-27","2023-06-28","2023-06-29","2023-06-30","2023-07-03","2023-07-04","2023-07-05","2023-07-06","2023-07-07","2023-07-10","2023-07-11","2023-07-12","2023-07-13","2023-07-14","2023-07-17","2023-07-18","2023-07-19","2023-07-20","2023-07-21","2023-07-24","2023-07-25","2023-07-26","2023-07-27","2023-07-28","2023-07-31","2023-08-01","2023-08-02","2023-08-03","2023-08-04","2023-08-07","2023-08-08","2023-08-09","2023-08-10","2023-08-11","2023-08-14","2023-08-15","2023-08-16","2023-08-17","2023-08-18","2023-08-21","2023-08-22","2023-08-23","2023-08-24","2023-08-25","2023-08-28","2023-08-29","2023-08-30","2023-08-31","2023-09-01","2023-09-04","2023-09-05","2023-09-06","2023-09-07","2023-09-08","2023-09-11","2023-09-12","2023-09-13","2023-09-14","2023-09-15","2023-09-18","2023-09-19","2023-09-20","2023-09-21","2023-09-22","2023-09-25","2023-09-26","2023-09-27","2023-09-28","2023-09-29","2023-10-02","2023-10-03","2023-10-04","2023-10-05","2023-10-06","2023-10-09","2023-10-10","2023-10-11","2023-10-12","2023-10-13","2023-10-16","2023-10-17","2023-10-18","2023-10-19","2023-10-20","2023-10-23","2023-10-24","2023-10-25","2023-10-26","2023-10-27","2023-10-30","2023-10-31","2023-11-01","2023-11-02","2023-11-03","2023-11-06","2023-11-07","2023-11-08","2023-11-09","2023-11-10","2023-11-13","2023-11-14","2023-11-15","2023-11-16","2023-11-17","2023-11-20","2023-11-21","2023-11-22","2023-11-23","2023-11-24","2023-11-27","2023-11-28","2023-11-29","2023-11-30","2023-12-01","2023-12-04","2023-12-05","2023-12-06","2023-12-07","2023-12-08","2023-12-11","2023-12-12","2023-12-13","2023-12-14","2023-12-15","2023-12-18","2023-12-19","2023-12-20","2023-12-21","2023-12-22","2023-12-26","2023-12-27","2023-12-28","2023-12-29","2024-01-01","2024-01-02","2024-01-03","2024-01-04","2024-01-05","2024-01-08","2024-01-09","2024-01-10","2024-01-11","2024-01-12","2024-01-15","2024-01-16","2024-01-17","2024-01-18","2024-01-19","2024-01-22","2024-01-23","2024-01-24","2024-01-25","2024-01-26","2024-01-29","2024-01-30","2024-01-31","2024-02-01","2024-02-02","2024-02-05","2024-02-06","2024-02-07","2024-02-08","2024-02-09","2024-02-12","2024-02-13","2024-02-14","2024-02-15","2024-02-16","2024-02-19","2024-02-20","2024-02-21","2024-02-22","2024-02-23","2024-02-26","2024-02-27","2024-02-28","2024-02-29","2024-03-01","2024-03-04","2024-03-05","2024-03-06","2024-03-07","2024-03-08","2024-03-11","2024-03-12","2024-03-13","2024-03-14","2024-03-15","2024-03-18","2024-03-19","2024-03-20","2024-03-21","2024-03-22","2024-03-25","2024-03-26","2024-03-27","2024-03-28","2024-04-01","2024-04-02","2024-04-03","2024-04-04","2024-04-05","2024-04-08","2024-04-09","2024-04-10","2024-04-11","2024-04-12","2024-04-15","2024-04-16","2024-04-17","2024-04-18"]}},
        "y": {"field": "o", "type": "quantitative", "scale": {"domain": [1779.6, 2408.9], "nice": false, "zero": false}},
        "y2": {"field": "c"},
        "color": {"condition": {"test": "datum.c >= datum.o", "value": "#93aa12"}, "value": "#b5321f"}
      }
    },
    {
      "data": {"name": "texte"},
      "mark": {"type": "text", "align": "left", "baseline": "alphabetic", "font": "Open Sans", "fontSize": 12.5, "color": "#333333"},
      "encoding": {
        "x": {"field": "d", "type": "ordinal", "bandPosition": 0.5, "axis": null,
          "scale": {"type": "band", "paddingInner": 0.3, "paddingOuter": 0.45, "domain": ["2023-06-21","2023-06-22","2023-06-23","2023-06-26","2023-06-27","2023-06-28","2023-06-29","2023-06-30","2023-07-03","2023-07-04","2023-07-05","2023-07-06","2023-07-07","2023-07-10","2023-07-11","2023-07-12","2023-07-13","2023-07-14","2023-07-17","2023-07-18","2023-07-19","2023-07-20","2023-07-21","2023-07-24","2023-07-25","2023-07-26","2023-07-27","2023-07-28","2023-07-31","2023-08-01","2023-08-02","2023-08-03","2023-08-04","2023-08-07","2023-08-08","2023-08-09","2023-08-10","2023-08-11","2023-08-14","2023-08-15","2023-08-16","2023-08-17","2023-08-18","2023-08-21","2023-08-22","2023-08-23","2023-08-24","2023-08-25","2023-08-28","2023-08-29","2023-08-30","2023-08-31","2023-09-01","2023-09-04","2023-09-05","2023-09-06","2023-09-07","2023-09-08","2023-09-11","2023-09-12","2023-09-13","2023-09-14","2023-09-15","2023-09-18","2023-09-19","2023-09-20","2023-09-21","2023-09-22","2023-09-25","2023-09-26","2023-09-27","2023-09-28","2023-09-29","2023-10-02","2023-10-03","2023-10-04","2023-10-05","2023-10-06","2023-10-09","2023-10-10","2023-10-11","2023-10-12","2023-10-13","2023-10-16","2023-10-17","2023-10-18","2023-10-19","2023-10-20","2023-10-23","2023-10-24","2023-10-25","2023-10-26","2023-10-27","2023-10-30","2023-10-31","2023-11-01","2023-11-02","2023-11-03","2023-11-06","2023-11-07","2023-11-08","2023-11-09","2023-11-10","2023-11-13","2023-11-14","2023-11-15","2023-11-16","2023-11-17","2023-11-20","2023-11-21","2023-11-22","2023-11-23","2023-11-24","2023-11-27","2023-11-28","2023-11-29","2023-11-30","2023-12-01","2023-12-04","2023-12-05","2023-12-06","2023-12-07","2023-12-08","2023-12-11","2023-12-12","2023-12-13","2023-12-14","2023-12-15","2023-12-18","2023-12-19","2023-12-20","2023-12-21","2023-12-22","2023-12-26","2023-12-27","2023-12-28","2023-12-29","2024-01-01","2024-01-02","2024-01-03","2024-01-04","2024-01-05","2024-01-08","2024-01-09","2024-01-10","2024-01-11","2024-01-12","2024-01-15","2024-01-16","2024-01-17","2024-01-18","2024-01-19","2024-01-22","2024-01-23","2024-01-24","2024-01-25","2024-01-26","2024-01-29","2024-01-30","2024-01-31","2024-02-01","2024-02-02","2024-02-05","2024-02-06","2024-02-07","2024-02-08","2024-02-09","2024-02-12","2024-02-13","2024-02-14","2024-02-15","2024-02-16","2024-02-19","2024-02-20","2024-02-21","2024-02-22","2024-02-23","2024-02-26","2024-02-27","2024-02-28","2024-02-29","2024-03-01","2024-03-04","2024-03-05","2024-03-06","2024-03-07","2024-03-08","2024-03-11","2024-03-12","2024-03-13","2024-03-14","2024-03-15","2024-03-18","2024-03-19","2024-03-20","2024-03-21","2024-03-22","2024-03-25","2024-03-26","2024-03-27","2024-03-28","2024-04-01","2024-04-02","2024-04-03","2024-04-04","2024-04-05","2024-04-08","2024-04-09","2024-04-10","2024-04-11","2024-04-12","2024-04-15","2024-04-16","2024-04-17","2024-04-18"]}},
        "y": {"field": "p", "type": "quantitative", "scale": {"domain": [1779.6, 2408.9], "nice": false, "zero": false}},
        "text": {"field": "text", "type": "nominal"}
      }
    }
  ],
  "resolve": {"scale": {"x": "independent"}, "axis": {"x": "independent"}}
}
